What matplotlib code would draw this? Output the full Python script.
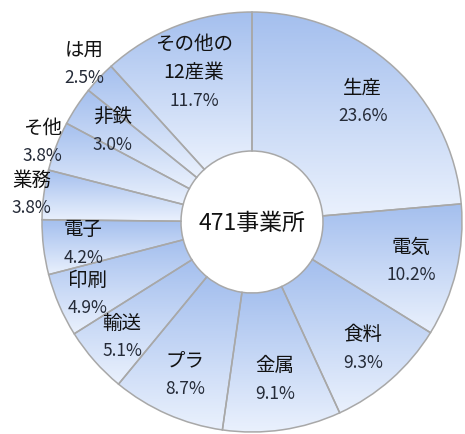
import numpy as np
import matplotlib
matplotlib.use('Agg')
import matplotlib.pyplot as plt
from matplotlib.colors import LinearSegmentedColormap

plt.rcParams['font.family'] = ['Noto Sans CJK JP', 'DejaVu Sans']

# 業種別 事業所数の割合 (%)
names = ['生産', '電気', '食料', '金属', 'プラ', '輸送', '印刷', '電子',
         '業務', 'そ他', '非鉄', 'は用', 'その他の\n12産業']
shares = [23.6, 10.2, 9.3, 9.1, 8.7, 5.1, 4.9, 4.2, 3.8, 3.8, 3.0, 2.5, 11.7]
center_label = '471事業所'

# ラベル位置（半径に対する比率）
label_r = [0.78, 0.78, 0.80, 0.755, 0.79, 0.825, 0.855, 0.81,
           1.06, 1.07, 0.795, 1.10, 0.767]

W, H = 465, 435
cx, cy, R, r_in = 252, 212, 210, 71

fig = plt.figure(figsize=(W / 100, H / 100), dpi=100)
ax = fig.add_axes([0, 0, 1, 1])

wedges, _ = ax.pie(shares, center=(cx, cy), radius=R, startangle=90,
                   counterclock=False,
                   wedgeprops=dict(width=R - r_in, facecolor='none',
                                   edgecolor='#a8a8a8', linewidth=1.1,
                                   zorder=3))

# 各扇形に縦方向グラデーション
cmap = LinearSegmentedColormap.from_list('grad', ['#eaf1fd', '#a4bfee'])
grad = np.linspace(0, 1, 256).reshape(-1, 1)
for w in wedges:
    ext = w.get_path().get_extents()
    im = ax.imshow(grad, cmap=cmap, origin='lower', aspect='auto',
                   extent=[ext.x0, ext.x1, ext.y0, ext.y1], zorder=1,
                   interpolation='bilinear')
    im.set_clip_path(w)

# ラベル
for w, name, val, lr in zip(wedges, names, shares, label_r):
    mid = np.deg2rad((w.theta1 + w.theta2) / 2)
    x = cx + lr * R * np.cos(mid)
    y = cy + lr * R * np.sin(mid)
    n_lines = name.count('\n') + 1
    total = n_lines + 1
    step = 28
    top = y + (total - 1) * step / 2
    ax.text(x, top - (n_lines - 1) * step / 2, name, ha='center', va='center',
            fontsize=14, color='#111111', linespacing=1.45, zorder=5)
    ax.text(x, top - n_lines * step, f'{val:.1f}%', ha='center', va='center',
            fontsize=12.5, color='#252b38', zorder=5)

ax.text(cx, cy, center_label, ha='center', va='center', fontsize=16.5,
        color='#111111', zorder=5)

ax.set_xlim(0, W)
ax.set_ylim(0, H)
ax.set_aspect('equal')
ax.axis('off')

plt.savefig('out.png', dpi=100)
